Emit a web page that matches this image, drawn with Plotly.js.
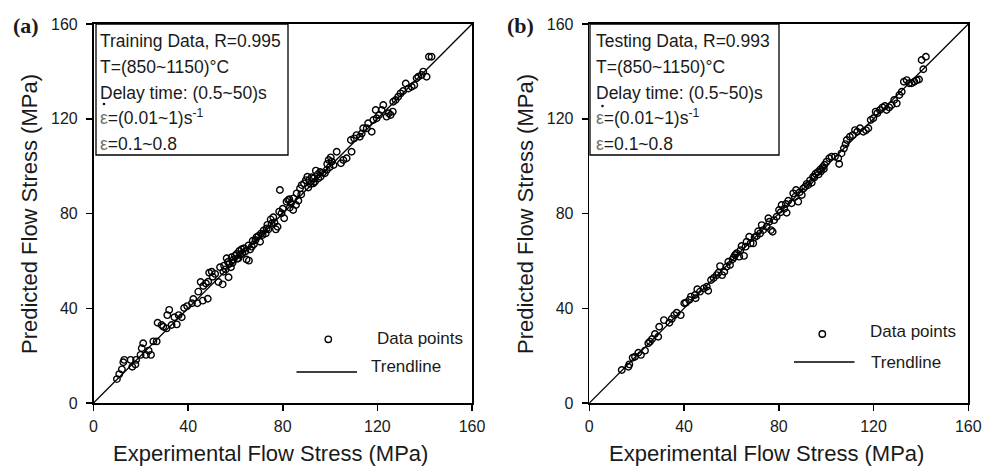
<!DOCTYPE html>
<html>
<head>
<meta charset="utf-8">
<script src="https://cdn.plot.ly/plotly-3.0.1.min.js"></script>
<style>html,body{margin:0;padding:0;background:#fff;}#chart{width:995px;height:469px;}</style>
</head>
<body>
<div id="chart"></div>
<script>
// Training data (panel a): experimental vs predicted flow stress (MPa)
const trainExp = [9.9,10.9,12.0,12.6,13.0,15.7,16.4,17.7,18.0,19.9,20.4,21.0,22.2,23.3,24.3,25.3,26.7,27.1,28.8,29.5,30.9,31.2,32.0,33.0,34.2,35.2,36.0,37.3,38.3,39.6,42.2,41.6,43.9,44.3,45.3,46.2,48.3,46.4,47.5,48.5,48.9,50.0,50.4,51.4,52.8,53.5,54.6,54.9,55.9,56.3,57.1,57.4,58.1,58.4,59.1,59.8,60.5,61.6,62.6,63.7,64.7,65.7,66.9,67.8,68.5,69.7,70.4,71.5,72.8,73.2,73.9,74.9,76.0,77.1,77.8,78.5,78.8,79.5,80.6,81.6,82.8,83.5,84.4,85.6,86.6,82.3,84.5,85.9,87.3,88.0,89.0,89.8,90.4,91.2,92.2,92.9,93.6,94.0,95.0,96.0,96.9,97.8,98.6,98.8,99.4,100.3,100.7,102.8,104.6,105.6,107.0,109.1,108.8,110.2,111.2,112.6,113.4,114.0,115.5,116.1,117.6,118.3,119.7,119.3,120.7,121.8,122.5,123.9,124.8,125.6,126.5,126.7,127.7,128.8,129.8,130.9,132.0,133.1,134.5,135.6,136.6,137.3,138.7,139.4,140.8,141.8,142.9,60.8,62.0,63.0,64.2,65.5,66.2,67.3,68.9,70.8,71.9,73.5,75.3,76.5,80.0,83.0,87.8,90.8,91.8,93.0,94.8,95.8,99.8,101.5,56.8,55.2,58.8,61.2];
const trainPred = [10.1,12.2,14.2,17.2,18.2,18.2,15.3,16.3,18.2,20.3,23.1,25.2,20.3,22.1,20.3,26.0,26.0,33.9,32.9,32.2,31.5,37.1,39.3,32.9,36.2,33.2,37.1,36.2,40.1,40.9,43.9,42.1,42.1,47.0,51.1,43.2,44.0,49.4,50.5,51.2,55.0,55.4,53.3,54.5,51.1,57.3,50.1,55.4,56.4,61.1,53.1,58.7,57.3,61.5,60.4,62.1,62.9,64.2,64.9,65.3,60.6,60.1,66.0,67.0,68.8,70.5,68.1,70.9,71.6,73.7,73.3,77.5,78.4,73.3,74.4,80.8,89.9,80.1,78.0,85.0,86.0,84.3,81.5,83.6,85.4,85.7,86.4,88.5,90.6,92.0,92.7,94.1,95.5,94.1,95.3,92.7,93.4,98.1,94.8,95.5,97.2,97.0,98.4,100.9,102.6,103.7,101.9,106.1,101.2,102.6,103.3,106.1,111.0,111.7,113.1,112.4,113.8,116.0,116.0,118.1,114.5,119.5,120.2,123.7,121.6,123.7,125.8,120.9,122.3,121.6,123.0,127.2,127.9,129.3,130.7,131.7,134.9,132.8,133.5,134.2,137.1,137.7,138.5,139.9,137.7,146.2,146.2,61.0,62.5,63.3,64.0,66.5,64.8,68.5,70.0,71.5,72.8,75.2,75.8,76.2,82.0,82.5,88.0,91.0,92.5,94.8,96.5,97.5,99.5,100.5,59.5,58.0,59.2,61.0];

// Testing data (panel b)
const testExp = [13.7,16.5,16.9,18.3,19.3,20.7,21.8,23.5,24.9,25.6,27.7,29.1,29.5,31.5,33.8,35.9,36.9,38.6,40.1,40.8,42.2,42.9,44.6,45.6,44.9,46.7,48.4,49.6,50.2,51.4,53.8,55.2,56.1,57.0,58.0,58.7,59.4,60.5,61.5,62.2,63.3,64.3,65.3,66.4,67.5,68.1,69.2,70.7,72.1,72.8,73.4,74.9,75.6,76.7,77.4,78.0,79.1,80.1,81.2,83.3,84.0,85.4,86.1,87.3,88.2,89.7,91.1,92.4,93.9,94.5,95.5,96.5,97.5,98.5,99.3,100.2,101.3,102.3,103.7,105.1,105.5,106.5,107.5,108.2,108.7,110.0,111.2,112.2,113.1,114.3,115.7,116.8,117.8,118.8,119.9,120.9,121.6,122.7,123.8,124.8,125.5,126.6,127.6,128.7,129.8,130.9,131.9,132.8,134.0,135.0,136.1,137.2,138.2,139.2,141.0,140.3,142.1,52.5,54.5,61.0,63.8,66.0,69.8,71.3,76.0,80.8,82.3,83.0,86.8,88.8,90.3,91.8,93.2,95.0,96.8,97.8,99.0,34.8,26.5];
const testPred = [13.9,15.3,16.3,19.1,19.5,21.2,20.3,22.1,25.2,25.9,29.1,28.0,32.2,35.0,33.9,37.1,38.1,37.1,42.1,42.3,43.5,44.9,45.6,48.0,44.2,47.0,48.4,49.1,47.4,51.9,54.0,57.8,54.0,55.4,57.5,59.6,58.3,60.7,62.5,63.2,61.8,66.3,62.1,68.1,70.2,67.4,67.4,70.5,71.6,75.1,73.0,74.4,78.0,73.0,72.3,77.2,78.6,81.5,83.6,80.3,85.4,84.3,88.5,89.9,85.0,87.8,91.3,92.0,93.0,95.5,96.8,97.5,98.6,99.5,100.6,101.9,103.3,104.0,104.0,103.3,100.9,105.4,107.5,109.3,111.0,112.4,113.1,115.2,114.5,116.0,114.5,115.2,116.0,119.5,120.2,123.0,122.3,123.7,124.8,125.4,123.7,124.8,125.8,127.9,126.5,130.0,131.4,135.6,136.3,135.0,135.0,135.6,136.3,136.6,140.9,144.8,146.2,52.8,55.0,61.5,64.5,66.0,70.0,72.5,76.5,80.5,82.0,84.0,87.0,89.0,90.5,92.5,94.0,95.2,96.5,97.8,98.8,35.5,27.0];

// Trendline (y = x)
const trendX = [0, 160];
const trendY = [0, 160];

// Axis ticks
const tickVals = [0, 40, 80, 120, 160];
const tickText = ['0', '40', '80', '120', '160'];

// Text
const seriesNames = ['Data points', 'Trendline'];
const EPS = '<span style="color:#6e6e6e">ε</span>';
const boxLinesA = ['Training Data, R=0.995', 'T=(850~1150)°C', 'Delay time: (0.5~50)s', EPS + '=(0.01~1)s<sup>-1</sup>', EPS + '=0.1~0.8'];
const boxLinesB = ['Testing Data, R=0.993', 'T=(850~1150)°C', 'Delay time: (0.5~50)s', EPS + '=(0.01~1)s<sup>-1</sup>', EPS + '=0.1~0.8'];
const panelLabels = ['(a)', '(b)'];
const xTitle = 'Experimental Flow Stress (MPa)';
const yTitle = 'Predicted Flow Stress (MPa)';

const W = 995, H = 469;
const FONT = 'Liberation Sans, Arial, Helvetica, sans-serif';
const TXT = '#1a1a1a';

function px(x) { return x / W; }
function py(y) { return 1 - y / H; }

const marker = {symbol: 'circle-open', size: 6.5, color: '#000', line: {width: 1.4, color: '#000'}};
const traces = [
  {x: trainExp, y: trainPred, type: 'scatter', mode: 'markers', name: seriesNames[0], marker: marker, xaxis: 'x', yaxis: 'y'},
  {x: trendX, y: trendY, type: 'scatter', mode: 'lines', name: seriesNames[1], line: {color: '#000', width: 1.3}, xaxis: 'x', yaxis: 'y'},
  {x: testExp, y: testPred, type: 'scatter', mode: 'markers', name: seriesNames[0], marker: marker, xaxis: 'x2', yaxis: 'y2'},
  {x: trendX, y: trendY, type: 'scatter', mode: 'lines', name: seriesNames[1], line: {color: '#000', width: 1.3}, xaxis: 'x2', yaxis: 'y2'}
];

function ax(dom, anchor, standoff) {
  return {domain: dom, anchor: anchor, range: [0, 160], tickvals: tickVals, ticktext: tickText,
    showgrid: false, zeroline: false, showline: true, mirror: true, linecolor: '#000', linewidth: 1.6,
    ticks: 'outside', ticklen: 6, tickwidth: 1.5, tickcolor: '#000', ticklabelstandoff: standoff,
    tickfont: {family: FONT, size: 16, color: TXT}, automargin: false, fixedrange: true};
}

const yDom = [py(403), py(24)];
const annotations = [];
const shapes = [];
const lineY = [40.5, 67, 92.5, 117, 143.5];
function txt(x, y, t, size, anchor, extra) {
  annotations.push(Object.assign({xref: 'paper', yref: 'paper', x: px(x), y: py(y), xanchor: anchor || 'left', yanchor: 'middle', text: t, showarrow: false,
    font: {family: FONT, size: size, color: TXT}, borderpad: 0}, extra || {}));
}
function addBox(lines, x0, x1, textX, dotX, dotY) {
  shapes.push({type: 'rect', xref: 'paper', yref: 'paper', x0: px(x0), x1: px(x1), y0: py(155), y1: py(24), line: {color: '#000', width: 1.3}, fillcolor: 'rgba(255,255,255,0)'});
  lines.forEach((t, i) => txt(textX, lineY[i], t, 17.5));
  // dot over the strain-rate epsilon
  shapes.push({type: 'circle', xref: 'paper', yref: 'paper', x0: px(dotX - 1.3), x1: px(dotX + 1.3), y0: py(dotY + 1.3), y1: py(dotY - 1.3), line: {width: 0}, fillcolor: '#111'});
}
addBox(boxLinesA, 96, 288, 98.5, 104, 104);
addBox(boxLinesB, 590, 779, 594.5, 602.5, 106);

// panel labels
const serif = {family: 'Liberation Serif, Times New Roman, serif', size: 22, color: TXT};
txt(12, 25, '<b>' + panelLabels[0] + '</b>', 22, 'left', {font: serif});
txt(506, 25, '<b>' + panelLabels[1] + '</b>', 22, 'left', {font: serif});

// axis titles
txt(270.5, 453, xTitle, 22, 'center');
txt(766, 453, xTitle, 22, 'center');
txt(30, 214, yTitle, 22, 'center', {textangle: -90, xanchor: 'center', yanchor: 'middle'});
txt(526, 214, yTitle, 22, 'center', {textangle: -90, xanchor: 'center', yanchor: 'middle'});

// legend glyphs and labels
function legend(mx, my, tx1, ty1, lx0, lx1, ly, tx2, ty2) {
  shapes.push({type: 'circle', xref: 'paper', yref: 'paper', x0: px(mx - 3.2), x1: px(mx + 3.2), y0: py(my + 3.2), y1: py(my - 3.2), line: {width: 1.4, color: '#000'}, fillcolor: 'rgba(0,0,0,0)'});
  shapes.push({type: 'line', xref: 'paper', yref: 'paper', x0: px(lx0), x1: px(lx1), y0: py(ly), y1: py(ly), line: {width: 1.3, color: '#000'}});
  txt(tx1, ty1, seriesNames[0], 17);
  txt(tx2, ty2, seriesNames[1], 17);
}
legend(328.3, 339.3, 376, 338, 296.5, 357, 372, 370, 366);
legend(822.3, 334, 869, 331, 794, 854.5, 362, 870, 362);

const layout = {
  width: W, height: H, margin: {l: 0, r: 0, t: 0, b: 0}, paper_bgcolor: '#fff', plot_bgcolor: '#fff',
  showlegend: false,
  xaxis: ax([px(93.5), px(472)], 'y', 2),
  yaxis: ax(yDom, 'x', 5),
  xaxis2: ax([px(589.3), px(968.3)], 'y2', 2),
  yaxis2: ax(yDom, 'x2', 5),
  annotations: annotations,
  shapes: shapes
};

Plotly.newPlot('chart', traces, layout, {displayModeBar: false, staticPlot: true});
</script>
</body>
</html>
